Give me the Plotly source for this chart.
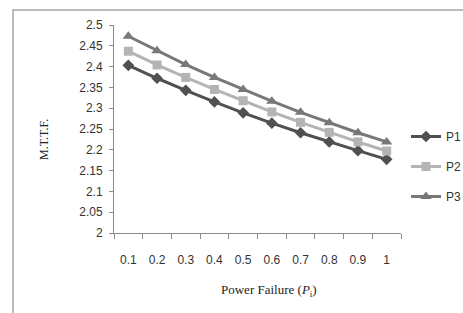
import plotly.graph_objects as go

categories = ["0.1", "0.2", "0.3", "0.4", "0.5", "0.6", "0.7", "0.8", "0.9", "1"]
p1 = [2.403, 2.372, 2.343, 2.315, 2.289, 2.264, 2.241, 2.219, 2.198, 2.177]
p2 = [2.437, 2.404, 2.374, 2.345, 2.318, 2.291, 2.266, 2.242, 2.219, 2.197]
p3 = [2.473, 2.438, 2.405, 2.374, 2.345, 2.317, 2.290, 2.265, 2.241, 2.219]
y_ticks = [2, 2.05, 2.1, 2.15, 2.2, 2.25, 2.3, 2.35, 2.4, 2.45, 2.5]
y_tick_labels = ["2", "2.05", "2.1", "2.15", "2.2", "2.25", "2.3", "2.35", "2.4", "2.45", "2.5"]

series = [
    ("P1", p1, "#505050", "diamond", 9),
    ("P2", p2, "#b4b4b4", "square", 9),
    ("P3", p3, "#787878", "triangle-up", 10),
]

fig = go.Figure()
for name, vals, color, sym, size in series:
    fig.add_trace(go.Scatter(
        x=categories, y=vals, name=name, mode="lines+markers",
        line=dict(color=color, width=3),
        marker=dict(symbol=sym, size=size, color=color),
        legendgroup=name,
    ))

W, H = 463, 313
L, R, T, B = 114, 401, 25, 233
pw, ph = R - L, B - T

fig.update_layout(
    width=W, height=H,
    margin=dict(l=L, r=W - R, t=T, b=H - B, pad=0, autoexpand=False),
    paper_bgcolor="white", plot_bgcolor="white",
    showlegend=True,
    legend=dict(
        xref="container", yref="container",
        x=406 / W, y=1 - 122 / H, xanchor="left", yanchor="top",
        font=dict(family="Liberation Sans", size=12, color="#333"),
        traceorder="grouped", tracegroupgap=11,
        bgcolor="rgba(0,0,0,0)", itemwidth=30,
    ),
    font=dict(family="Liberation Sans", size=12, color="#333"),
)
fig.update_xaxes(
    type="category", categoryorder="array", categoryarray=categories,
    range=[-0.5, len(categories) - 0.5], autorange=False,
    showline=True, linecolor="#8c8c8c", linewidth=1,
    ticks="outside", tickson="boundaries", ticklen=5, tickcolor="#8c8c8c",
    showgrid=False, zeroline=False, automargin=False, tickangle=0,
    tickfont=dict(family="Liberation Sans", size=12, color="#333"),
    ticklabelstandoff=16,
)
fig.update_yaxes(
    range=[2, 2.5], tickvals=y_ticks, ticktext=y_tick_labels,
    showline=True, linecolor="#8c8c8c", linewidth=1,
    ticks="outside", ticklen=4, tickcolor="#8c8c8c",
    showgrid=False, zeroline=False, automargin=False,
    tickfont=dict(family="Liberation Sans", size=12, color="#333"),
    ticklabelstandoff=4,
)

# outer chart frame
fig.add_shape(type="rect", xref="paper", yref="paper",
              x0=(13 - L) / pw, x1=(W + 20 - L) / pw,
              y0=-(H + 20 - B) / ph, y1=1 + (T - 10) / ph,
              line=dict(color="#a6a6a6", width=1.5), layer="below")

fig.add_annotation(text="Power Failure (<i>P</i><sub>i</sub>)", xref="paper", yref="paper",
                   x=(269 - L) / pw, y=-(290 - B) / ph, showarrow=False,
                   xanchor="center", yanchor="middle",
                   font=dict(family="Liberation Serif", size=13, color="#222"))
fig.add_annotation(text="M.T.T.F.", xref="paper", yref="paper",
                   x=(44 - L) / pw, y=(B - 140) / ph, showarrow=False, textangle=-90,
                   xanchor="center", yanchor="middle",
                   font=dict(family="Liberation Serif", size=12, color="#222"))

fig.write_html(
    "out.html",
    config={"displayModeBar": False},
    post_script="document.body.style.margin='0px';document.body.style.overflow='hidden';",
)
